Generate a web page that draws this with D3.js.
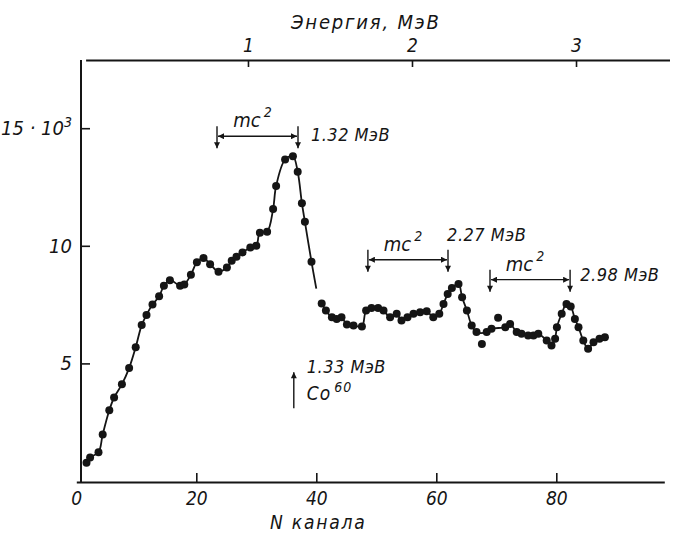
<!DOCTYPE html>
<html>
<head>
<meta charset="utf-8">
<script src="https://cdn.jsdelivr.net/npm/d3@7"></script>
<style>
  body { margin: 0; background: #fff; }
  svg text { font-family: "DejaVu Sans Condensed", "DejaVu Sans", sans-serif; font-stretch: condensed; font-style: italic; fill: #151515; }
</style>
</head>
<body>
<div id="chart"></div>
<script>
// channel numbers and counts (thousands)
var channels = [1.7, 2.3, 3.7, 4.4, 5.5, 6.3, 7.6, 8.8, 9.9, 10.9, 11.7, 12.7, 13.8, 14.6, 15.6,
  17.3, 18.0, 19.1, 20.1, 21.2, 22.3, 23.7, 25.1, 25.9, 26.7, 27.7, 29.0, 30.0, 30.6, 31.8,
  32.8, 33.3, 34.8, 36.1, 36.9, 37.6, 38.1, 39.2,
  40.9, 41.6, 42.6, 43.4, 44.2, 45.1, 46.2, 47.6, 48.3, 49.2, 50.3, 51.2, 52.3, 53.4, 54.2,
  55.2, 56.2, 57.3, 58.4, 59.5, 60.5, 61.2, 61.9, 62.6, 63.7, 64.3, 65.1, 65.9, 66.7, 67.6,
  68.4, 69.2, 70.3, 71.5, 72.3, 73.4, 74.2, 75.3, 76.2, 77.0, 78.4, 79.2, 79.8, 80.1, 80.9,
  81.7, 82.4, 83.1, 83.7, 84.5, 85.3, 86.2, 87.2, 88.1];
var counts = [0.78, 1.00, 1.22, 1.98, 3.01, 3.55, 4.11, 4.80, 5.69, 6.63, 7.06, 7.50, 7.85, 8.30, 8.54,
  8.30, 8.35, 8.77, 9.30, 9.48, 9.22, 8.90, 9.08, 9.36, 9.53, 9.72, 9.93, 10.00, 10.56, 10.60,
  11.56, 12.54, 13.67, 13.81, 13.15, 11.81, 11.02, 9.32,
  7.55, 7.25, 6.96, 6.89, 6.96, 6.65, 6.61, 6.57, 7.25, 7.36, 7.36, 7.25, 6.96, 7.11, 6.82,
  6.96, 7.11, 7.17, 7.22, 6.96, 7.11, 7.53, 7.95, 8.21, 8.38, 7.81, 7.25, 6.61, 6.33, 5.83,
  6.33, 6.47, 6.94, 6.54, 6.68, 6.33, 6.26, 6.19, 6.19, 6.26, 5.97, 5.76, 6.05, 6.54, 7.11,
  7.53, 7.42, 6.89, 6.54, 5.97, 5.62, 5.90, 6.05, 6.11];
// points the drawn curve does not pass through
var strayChannels = [67.6, 70.3];
// the drawn curve breaks after the steep fall of the 1.32 MeV peak
var curveBreakAfter = 39.2;
var curveEnd = [40.0, 8.18];

var xTicks = [0, 20, 40, 60, 80];
var yTicks = [5, 10, 15];
var energyTicks = [1, 2, 3];

// mc^2 brackets: channel of left/right arrow, level in thousands
var bracketLeft = [23.45, 48.6, 68.95];
var bracketRight = [36.95, 61.95, 82.3];
var bracketLevel = [14.66, 9.41, 8.56];
var peakLabels = ["1.32 МэВ", "2.27 МэВ", "2.98 МэВ"];
var peakLabelChannel = [39.1, 61.8, 84.0];
var peakLabelLevel = [14.45, 10.2, 8.5];

// Co60 reference arrow
var coArrowChannel = 36.25;
var coArrowFrom = 3.09, coArrowTo = 4.62;

var width = 674, height = 534;
var svg = d3.select("#chart").append("svg")
  .attr("width", width).attr("height", height);

var x = d3.scaleLinear().domain([0, 98]).range([76.3, 664.3]);
var y = d3.scaleLinear().domain([0, 17.9]).range([481, 60]);
// energy scale on top (1 MeV ~ 27.3 channels)
var e = d3.scaleLinear().domain([0.01, 3.57]).range([85.6, 669.5]);

var defs = svg.append("defs");
defs.append("marker").attr("id", "ah")
  .attr("viewBox", "0 0 10 10").attr("refX", 10).attr("refY", 5)
  .attr("markerWidth", 8).attr("markerHeight", 6).attr("markerUnits", "userSpaceOnUse")
  .attr("orient", "auto-start-reverse")
  .append("path").attr("d", "M0,0 L10,5 L0,10 Z").attr("fill", "#151515");

// axes
var axisX = svg.append("g").attr("transform", "translate(0," + (y(0) + 1) + ")")
  .call(d3.axisBottom(x).tickValues(xTicks).tickSizeInner(-9).tickSizeOuter(0).tickPadding(10));
axisX.selectAll(".tick").filter(function(d) { return d === 0; }).select("line").remove();

var axisY = svg.append("g").attr("transform", "translate(81,0)")
  .call(d3.axisLeft(y).tickValues(yTicks).tickSizeInner(-9).tickSizeOuter(0).tickPadding(9));
axisY.select(".domain").attr("d", "M0," + (y(0) + 2) + "V" + y.range()[1]);

var axisE = svg.append("g").attr("transform", "translate(0," + y.range()[1] + ")")
  .call(d3.axisTop(e).tickValues(energyTicks).tickFormat(d3.format("d")).tickSizeInner(-7).tickSizeOuter(0).tickPadding(8));

svg.selectAll(".domain").attr("stroke", "#151515").attr("stroke-width", 2);
svg.selectAll(".tick line").attr("stroke", "#151515").attr("stroke-width", 1.6);
svg.selectAll(".tick text").attr("font-size", 19).attr("font-family", null).attr("fill", "#151515");

axisY.selectAll(".tick text").filter(function(d) { return d === 15; })
  .text("15 · 10")
  .append("tspan").attr("dy", "-0.55em").attr("font-size", 14).text("3");
axisY.selectAll(".tick text").attr("font-size", 20);

svg.append("text").attr("x", 291).attr("y", 29).attr("font-size", 20)
  .attr("letter-spacing", 1.8).text("Энергия, МэВ");
svg.append("text").attr("x", 270).attr("y", 529).attr("font-size", 19)
  .attr("letter-spacing", 1.8).text("N канала");

// fitted curve
var pts = channels.map(function(c, i) { return [c, counts[i]]; });
var onCurve = pts.filter(function(p) { return strayChannels.indexOf(p[0]) < 0; });
var segA = onCurve.filter(function(p) { return p[0] <= curveBreakAfter; }).concat([curveEnd]);
var segB = onCurve.filter(function(p) { return p[0] > curveBreakAfter; });
var line = d3.line().x(function(d) { return x(d[0]); }).y(function(d) { return y(d[1]); })
  .curve(d3.curveCatmullRom.alpha(0.5));
svg.selectAll(".fit").data([segA, segB]).enter().append("path")
  .attr("class", "fit").attr("d", line)
  .attr("fill", "none").attr("stroke", "#151515").attr("stroke-width", 1.8);

svg.selectAll(".pt").data(pts).enter().append("circle")
  .attr("class", "pt")
  .attr("cx", function(d) { return x(d[0]); })
  .attr("cy", function(d) { return y(d[1]); })
  .attr("r", 4).attr("fill", "#151515");

// mc^2 brackets
var br = svg.selectAll(".br").data(bracketLeft).enter().append("g").attr("class", "br");
br.append("line")
  .attr("x1", function(d, i) { return x(bracketLeft[i]) + 1; })
  .attr("x2", function(d, i) { return x(bracketRight[i]) - 1; })
  .attr("y1", function(d, i) { return y(bracketLevel[i]); })
  .attr("y2", function(d, i) { return y(bracketLevel[i]); })
  .attr("stroke", "#151515").attr("stroke-width", 1.4)
  .attr("marker-start", "url(#ah)").attr("marker-end", "url(#ah)");
[bracketLeft, bracketRight].forEach(function(arr) {
  br.append("line")
    .attr("x1", function(d, i) { return x(arr[i]); })
    .attr("x2", function(d, i) { return x(arr[i]); })
    .attr("y1", function(d, i) { return y(bracketLevel[i]) - 10; })
    .attr("y2", function(d, i) { return y(bracketLevel[i]) + 12; })
    .attr("stroke", "#151515").attr("stroke-width", 1.4)
    .attr("marker-end", "url(#ah)");
});
var mc = br.append("text")
  .attr("x", function(d, i) { return (x(bracketLeft[i]) + x(bracketRight[i])) / 2 - 5; })
  .attr("y", function(d, i) { return y(bracketLevel[i]) - 9; })
  .attr("text-anchor", "middle").attr("font-size", 20).text("mc");
mc.append("tspan").attr("dy", "-0.7em").attr("dx", 3).attr("font-size", 14).text("2");
br.append("text")
  .attr("x", function(d, i) { return x(peakLabelChannel[i]); })
  .attr("y", function(d, i) { return y(peakLabelLevel[i]); })
  .attr("font-size", 18).attr("letter-spacing", 0.5)
  .text(function(d, i) { return peakLabels[i]; });

// Co60 line position
svg.append("line")
  .attr("x1", x(coArrowChannel)).attr("x2", x(coArrowChannel))
  .attr("y1", y(coArrowFrom)).attr("y2", y(coArrowTo))
  .attr("stroke", "#151515").attr("stroke-width", 1.4).attr("marker-end", "url(#ah)");
svg.append("text").attr("x", x(coArrowChannel) + 13).attr("y", y(coArrowTo) + 1)
  .attr("font-size", 18).attr("letter-spacing", 0.5).text("1.33 МэВ");
var co = svg.append("text").attr("x", x(coArrowChannel) + 13).attr("y", y(coArrowTo) + 28)
  .attr("font-size", 19).attr("letter-spacing", 1).text("Co");
co.append("tspan").attr("dy", "-0.6em").attr("dx", 3).attr("font-size", 14).text("60");
</script>
</body>
</html>
